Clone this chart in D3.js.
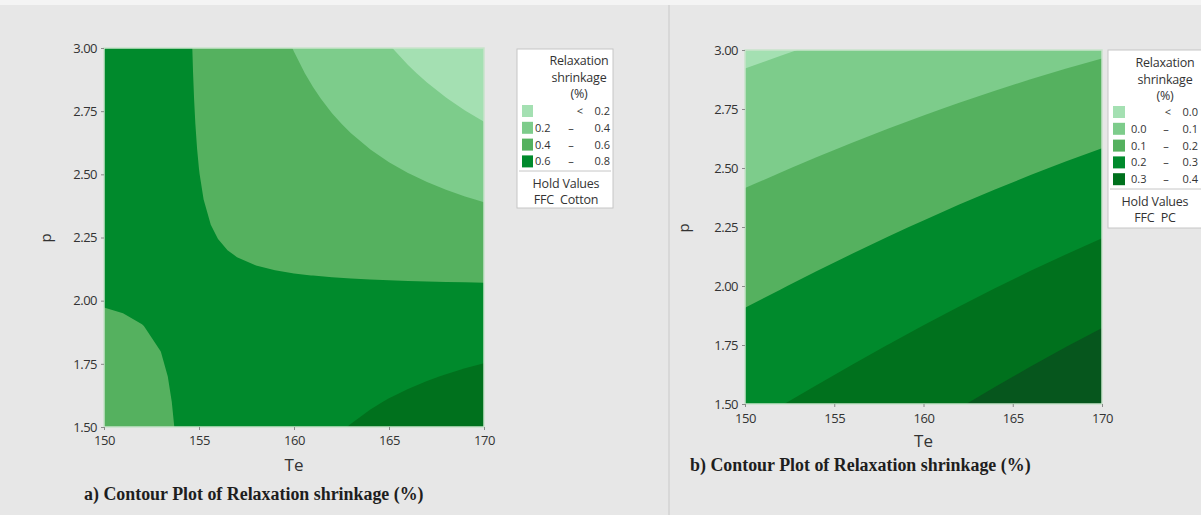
<!DOCTYPE html>
<html>
<head>
<meta charset="utf-8">
<script src="https://cdn.jsdelivr.net/npm/d3@7.9.0/dist/d3.min.js"></script>
<style>
  html, body { margin: 0; padding: 0; background: #e7e7e7; }
  svg { display: block; }
  text { font-family: "Open Sans", "Noto Sans", sans-serif; fill: #333; }
  .caption { font-family: "Liberation Serif", "Times New Roman", serif; font-weight: bold; font-size: 17.9px; fill: #1e1e1e; }
  .legend text { font-size: 11px; fill: #333; }
  .legend text.big { font-size: 12.5px; letter-spacing: -0.2px; }
</style>
</head>
<body>
<svg id="chart" width="1201" height="515"></svg>
<script>
const teTicks = [150, 155, 160, 165, 170];
const pTicks = [1.5, 1.75, 2.0, 2.25, 2.5, 2.75, 3.0];

// panel a (FFC Cotton): columns Te = 150 ... 170 step 1, rows p = 1.5 ... 3.0 step 0.1
const teGridA = [150, 151, 152, 153, 154, 155, 156, 157, 158, 159, 160, 161, 162, 163, 164, 165, 166, 167, 168, 169, 170];
const pGridA = [1.5, 1.6, 1.7, 1.8, 1.9, 2.0, 2.1, 2.2, 2.3, 2.4, 2.5, 2.6, 2.7, 2.8, 2.9, 3.0];
const shrinkA = [
  [0.5186, 0.5406, 0.5626, 0.5846, 0.6066, 0.6286, 0.6506, 0.6726, 0.6946, 0.7166, 0.7386, 0.7606, 0.7826, 0.8046, 0.8266, 0.8486, 0.8706, 0.8926, 0.9146, 0.9366, 0.9586],
  [0.5358, 0.5538, 0.5718, 0.5898, 0.6078, 0.6258, 0.6438, 0.6618, 0.6798, 0.6978, 0.7158, 0.7338, 0.7518, 0.7698, 0.7878, 0.8058, 0.8238, 0.8418, 0.8598, 0.8778, 0.8958],
  [0.5530, 0.5670, 0.5810, 0.5950, 0.6090, 0.6230, 0.6370, 0.6510, 0.6650, 0.6790, 0.6930, 0.7070, 0.7210, 0.7350, 0.7490, 0.7630, 0.7770, 0.7910, 0.8050, 0.8190, 0.8330],
  [0.5702, 0.5802, 0.5902, 0.6002, 0.6102, 0.6202, 0.6302, 0.6402, 0.6502, 0.6602, 0.6702, 0.6802, 0.6902, 0.7002, 0.7102, 0.7202, 0.7302, 0.7402, 0.7502, 0.7602, 0.7702],
  [0.5874, 0.5934, 0.5994, 0.6054, 0.6114, 0.6174, 0.6234, 0.6294, 0.6354, 0.6414, 0.6474, 0.6534, 0.6594, 0.6654, 0.6714, 0.6774, 0.6834, 0.6894, 0.6954, 0.7014, 0.7074],
  [0.6046, 0.6066, 0.6086, 0.6106, 0.6126, 0.6146, 0.6166, 0.6186, 0.6206, 0.6226, 0.6246, 0.6266, 0.6286, 0.6306, 0.6326, 0.6346, 0.6366, 0.6386, 0.6406, 0.6426, 0.6446],
  [0.6218, 0.6198, 0.6178, 0.6158, 0.6138, 0.6118, 0.6098, 0.6078, 0.6058, 0.6038, 0.6018, 0.5998, 0.5978, 0.5958, 0.5938, 0.5918, 0.5898, 0.5878, 0.5858, 0.5838, 0.5818],
  [0.6390, 0.6330, 0.6270, 0.6210, 0.6150, 0.6090, 0.6030, 0.5970, 0.5910, 0.5850, 0.5790, 0.5730, 0.5670, 0.5610, 0.5550, 0.5490, 0.5430, 0.5370, 0.5310, 0.5250, 0.5190],
  [0.6562, 0.6462, 0.6362, 0.6262, 0.6162, 0.6062, 0.5962, 0.5862, 0.5762, 0.5662, 0.5562, 0.5462, 0.5362, 0.5262, 0.5162, 0.5062, 0.4962, 0.4862, 0.4762, 0.4662, 0.4562],
  [0.6734, 0.6594, 0.6454, 0.6314, 0.6174, 0.6034, 0.5894, 0.5754, 0.5614, 0.5474, 0.5334, 0.5194, 0.5054, 0.4914, 0.4774, 0.4634, 0.4494, 0.4354, 0.4214, 0.4074, 0.3934],
  [0.6906, 0.6726, 0.6546, 0.6366, 0.6186, 0.6006, 0.5826, 0.5646, 0.5466, 0.5286, 0.5106, 0.4926, 0.4746, 0.4566, 0.4386, 0.4206, 0.4026, 0.3846, 0.3666, 0.3486, 0.3306],
  [0.7078, 0.6858, 0.6638, 0.6418, 0.6198, 0.5978, 0.5758, 0.5538, 0.5318, 0.5098, 0.4878, 0.4658, 0.4438, 0.4218, 0.3998, 0.3778, 0.3558, 0.3338, 0.3118, 0.2898, 0.2678],
  [0.7250, 0.6990, 0.6730, 0.6470, 0.6210, 0.5950, 0.5690, 0.5430, 0.5170, 0.4910, 0.4650, 0.4390, 0.4130, 0.3870, 0.3610, 0.3350, 0.3090, 0.2830, 0.2570, 0.2310, 0.2050],
  [0.7422, 0.7122, 0.6822, 0.6522, 0.6222, 0.5922, 0.5622, 0.5322, 0.5022, 0.4722, 0.4422, 0.4122, 0.3822, 0.3522, 0.3222, 0.2922, 0.2622, 0.2322, 0.2022, 0.1722, 0.1422],
  [0.7594, 0.7254, 0.6914, 0.6574, 0.6234, 0.5894, 0.5554, 0.5214, 0.4874, 0.4534, 0.4194, 0.3854, 0.3514, 0.3174, 0.2834, 0.2494, 0.2154, 0.1814, 0.1474, 0.1134, 0.0794],
  [0.7766, 0.7386, 0.7006, 0.6626, 0.6246, 0.5866, 0.5486, 0.5106, 0.4726, 0.4346, 0.3966, 0.3586, 0.3206, 0.2826, 0.2446, 0.2066, 0.1686, 0.1306, 0.0926, 0.0546, 0.0166]
];
const levelsA = [0.2, 0.4, 0.6, 0.8];
const legendA = [['<', '0.2'], ['0.2', '0.4'], ['0.4', '0.6'], ['0.6', '0.8']];

// panel b (FFC PC): columns Te = 150 ... 170 step 2, rows p = 1.5 ... 3.0 step 0.25
const teGridB = [150, 152, 154, 156, 158, 160, 162, 164, 166, 168, 170];
const pGridB = [1.5, 1.75, 2.0, 2.25, 2.5, 2.75, 3.0];
const shrinkB = [
  [0.2805, 0.2982, 0.3165, 0.3355, 0.3550, 0.3751, 0.3958, 0.4171, 0.4390, 0.4615, 0.4846],
  [0.2312, 0.2477, 0.2648, 0.2823, 0.3003, 0.3189, 0.3379, 0.3574, 0.3775, 0.3980, 0.4190],
  [0.1818, 0.1971, 0.2129, 0.2290, 0.2456, 0.2626, 0.2799, 0.2976, 0.3158, 0.3343, 0.3532],
  [0.1325, 0.1467, 0.1611, 0.1759, 0.1910, 0.2063, 0.2220, 0.2379, 0.2542, 0.2708, 0.2876],
  [0.0832, 0.0962, 0.1094, 0.1227, 0.1363, 0.1501, 0.1641, 0.1782, 0.1926, 0.2072, 0.2220],
  [0.0338, 0.0456, 0.0575, 0.0695, 0.0816, 0.0938, 0.1061, 0.1185, 0.1310, 0.1435, 0.1562],
  [-0.0155, -0.0049, 0.0057, 0.0163, 0.0269, 0.0376, 0.0482, 0.0588, 0.0694, 0.0800, 0.0906]
];
const levelsB = [0.0, 0.1, 0.2, 0.3, 0.4];
const legendB = [['<', '0.0'], ['0.0', '0.1'], ['0.1', '0.2'], ['0.2', '0.3'], ['0.3', '0.4']];

const greens = ['#a4e0b2', '#7dcc8b', '#55b15f', '#008a2c', '#00711d', '#06561d'];

const svg = d3.select('#chart');

// pale strip along the top edge of the screenshot
svg.append('rect')
  .attr('x', 0).attr('y', 0).attr('width', 1201).attr('height', 5)
  .attr('fill', '#f4f4f4');

// faint divider between the two screenshots
svg.append('line')
  .attr('x1', 669).attr('x2', 669).attr('y1', 5).attr('y2', 515)
  .attr('stroke', '#d3d3d3').attr('stroke-width', 1.5);

function drawPanel(cfg) {
  const g = svg.append('g');
  const x = d3.scaleLinear().domain([150, 170]).range([cfg.left, cfg.right]);
  const y = d3.scaleLinear().domain([1.5, 3.0]).range([cfg.bottom, cfg.top]);

  const nx = cfg.te.length, ny = cfg.p.length;
  const dTe = cfg.te[1] - cfg.te[0], dP = cfg.p[1] - cfg.p[0];

  // d3.contours puts sample i at grid coordinate i + 0.5
  const toPixels = d3.geoTransform({
    point(gx, gy) {
      this.stream.point(x(cfg.te[0] + (gx - 0.5) * dTe), y(cfg.p[0] + (gy - 0.5) * dP));
    }
  });
  const path = d3.geoPath(toPixels);
  const bands = d3.contours().size([nx, ny]).thresholds(cfg.levels)(cfg.z.flat());

  g.append('clipPath').attr('id', cfg.id + '-clip')
    .append('rect')
    .attr('x', cfg.left).attr('y', cfg.top)
    .attr('width', cfg.right - cfg.left).attr('height', cfg.bottom - cfg.top);

  const plot = g.append('g').attr('clip-path', `url(#${cfg.id}-clip)`);
  plot.append('rect')
    .attr('x', cfg.left).attr('y', cfg.top)
    .attr('width', cfg.right - cfg.left).attr('height', cfg.bottom - cfg.top)
    .attr('fill', greens[0]);
  plot.selectAll('path')
    .data(bands)
    .join('path')
    .attr('d', path)
    .attr('fill', (d, i) => greens[i + 1]);

  g.append('rect')
    .attr('x', cfg.left).attr('y', cfg.top)
    .attr('width', cfg.right - cfg.left).attr('height', cfg.bottom - cfg.top)
    .attr('fill', 'none').attr('stroke', '#c9e3cb').attr('stroke-width', 1.5);

  const xAxis = g.append('g')
    .attr('transform', `translate(0,${cfg.bottom})`)
    .call(d3.axisBottom(x).tickValues(teTicks).tickSize(3).tickPadding(cfg.xPad));
  const yAxis = g.append('g')
    .attr('transform', `translate(${cfg.left},0)`)
    .call(d3.axisLeft(y).tickValues(pTicks).tickFormat(d3.format('.2f')).tickSize(3).tickPadding(4));

  [xAxis, yAxis].forEach(a => {
    a.select('.domain').remove();
    a.selectAll('.tick line').attr('stroke', '#8a8a8a');
    a.selectAll('.tick text').attr('font-size', 13).attr('fill', '#333')
      .style('font-family', '"Open Sans", sans-serif').attr('letter-spacing', -0.5);
  });

  g.append('text')
    .attr('x', (cfg.left + cfg.right) / 2).attr('y', cfg.teY)
    .attr('text-anchor', 'middle').attr('font-size', 17).attr('fill', '#1e1e1e')
    .text('Te');

  g.append('text')
    .attr('transform', `translate(${cfg.pX},${cfg.pY}) rotate(-90)`)
    .attr('text-anchor', 'middle').attr('font-size', 15).attr('fill', '#1e1e1e')
    .text('p');

  g.append('text').attr('class', 'caption')
    .attr('x', cfg.capX).attr('y', cfg.capY)
    .text(cfg.caption);

  // legend box
  const L = cfg.legend;
  const lg = g.append('g').attr('class', 'legend');
  lg.append('rect')
    .attr('x', L.x).attr('y', L.y).attr('width', L.w).attr('height', L.h)
    .attr('fill', '#fff').attr('stroke', '#c6c6c6');
  ['Relaxation', 'shrinkage', '(%)'].forEach((t, i) => {
    lg.append('text').attr('class', 'big')
      .attr('x', L.titleX).attr('y', L.titleY + i * 16.5)
      .attr('text-anchor', 'middle').text(t);
  });
  const rows = lg.selectAll('g.row')
    .data(cfg.legendRows)
    .join('g')
    .attr('class', 'row')
    .attr('transform', (d, i) => `translate(0,${L.rowY + i * L.rowStep})`);
  rows.append('rect')
    .attr('x', L.sx).attr('y', -6).attr('width', L.sw).attr('height', 12)
    .attr('fill', (d, i) => greens[i]);
  rows.append('text')
    .attr('x', d => d[0] === '<' ? L.ltX : L.loX).attr('y', 4)
    .attr('text-anchor', d => d[0] === '<' ? 'middle' : 'start')
    .text(d => d[0]);
  rows.filter(d => d[0] !== '<').append('text')
    .attr('x', L.dashX).attr('y', 4).attr('text-anchor', 'middle')
    .text('\u2013');
  rows.append('text')
    .attr('x', L.hiX).attr('y', 4).attr('text-anchor', 'end')
    .text(d => d[1]);
  lg.append('line')
    .attr('x1', L.x + 2).attr('x2', L.x + L.w - 2)
    .attr('y1', L.divY).attr('y2', L.divY)
    .attr('stroke', '#c6c6c6');
  lg.append('text').attr('class', 'big')
    .attr('x', L.holdX).attr('y', L.divY + 17)
    .attr('text-anchor', 'middle').text('Hold Values');
  lg.append('text').attr('class', 'big')
    .attr('x', L.holdX).attr('y', L.divY + 33)
    .attr('text-anchor', 'middle').attr('xml:space', 'preserve')
    .text(cfg.holdText);
}

drawPanel({
  id: 'a', left: 104, right: 484, top: 48, bottom: 427,
  te: teGridA, p: pGridA, z: shrinkA, levels: levelsA, legendRows: legendA,
  xPad: 6, teY: 471, pX: 51, pY: 238,
  capX: 84, capY: 500, caption: 'a) Contour Plot of Relaxation shrinkage (%)',
  holdText: 'FFC  Cotton',
  legend: {
    x: 517, y: 49, w: 96, h: 159, titleX: 579, titleY: 65,
    rowY: 111, rowStep: 16.8, sx: 522, sw: 11,
    loX: 535, dashX: 571, hiX: 610, ltX: 580,
    divY: 171, holdX: 566
  }
});

drawPanel({
  id: 'b', left: 745, right: 1102, top: 50, bottom: 404,
  te: teGridB, p: pGridB, z: shrinkB, levels: levelsB, legendRows: legendB,
  xPad: 7, teY: 447, pX: 689, pY: 228,
  capX: 690, capY: 471, caption: 'b) Contour Plot of Relaxation shrinkage (%)',
  holdText: 'FFC  PC',
  legend: {
    x: 1108, y: 50, w: 96, h: 178, titleX: 1165, titleY: 67,
    rowY: 112, rowStep: 16.8, sx: 1113, sw: 12,
    loX: 1131, dashX: 1166, hiX: 1198, ltX: 1168,
    divY: 189, holdX: 1155
  }
});
</script>
</body>
</html>
